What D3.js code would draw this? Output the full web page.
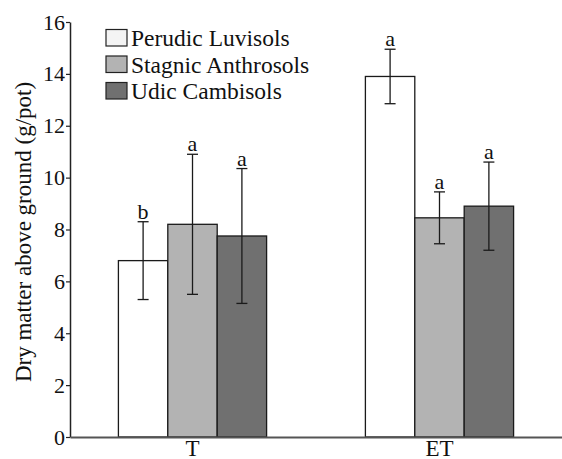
<!DOCTYPE html>
<html lang="en">
	<head>
		<meta charset="utf-8">
		<title>Dry matter above ground</title>
		<script type="text/javascript" src="https://cdn.jsdelivr.net/npm/d3@7"></script>
		<style type="text/css">
			body { margin: 0; background: #fff; }
			text { font-family: "Liberation Serif", "Times New Roman", serif; fill: #111; }
		</style>
	</head>
	<body>
		<script type="text/javascript">

			//Width and height
			var w = 562;
			var h = 459;

			var groups = ["T", "ET"];
			var soils = ["Perudic Luvisols", "Stagnic Anthrosols", "Udic Cambisols"];
			var colors = ["#ffffff", "#b3b3b3", "#707070"];
			var legendColors = ["#f4f4f4", "#b3b3b3", "#707070"];

			//mean values per soil, in group order (T, ET)
			var perudic = [6.8, 13.9];
			var stagnic = [8.2, 8.45];
			var udic = [7.75, 8.9];
			//standard deviations
			var perudicErr = [1.5, 1.05];
			var stagnicErr = [2.7, 1.0];
			var udicErr = [2.6, 1.7];
			//significance letters
			var perudicSig = ["b", "a"];
			var stagnicSig = ["a", "a"];
			var udicSig = ["a", "a"];

			var yTicks = [0, 2, 4, 6, 8, 10, 12, 14, 16];

			var means = [perudic, stagnic, udic];
			var errs = [perudicErr, stagnicErr, udicErr];
			var sigs = [perudicSig, stagnicSig, udicSig];

			var dataset = [];
			groups.forEach(function(g, gi) {
				soils.forEach(function(s, si) {
					dataset.push({group: g, soil: s, si: si, v: means[si][gi], e: errs[si][gi], sig: sigs[si][gi]});
				});
			});

			var padLeft = 70, padTop = 22, padBottom = 437;

			var xScale = d3.scaleBand()
			.domain(groups)
			.range([padLeft, w])
			.paddingInner(0.4)
			.paddingOuter(0.196);

			var sScale = d3.scaleBand()
			.domain(soils)
			.range([0, xScale.bandwidth()]);

			var yScale = d3.scaleLinear()
			.domain([0, 16])
			.range([padBottom, padTop]);

			//Create SVG element
			var svg = d3.select("body")
						.append("svg")
						.attr("height", h)
						.attr("width", w);

			svg.selectAll("rect.bar")
			.data(dataset)
			.enter()
			.append("rect")
			.attr("class", "bar")
			.attr("x", function(d){ return xScale(d.group) + sScale(d.soil); })
			.attr("y", function(d){ return yScale(d.v); })
			.attr("width", sScale.bandwidth())
			.attr("height", function(d){ return yScale(0) - yScale(d.v); })
			.attr("fill", function(d){ return colors[d.si]; })
			.attr("stroke", "#1a1a1a")
			.attr("stroke-width", 1.3);

			var cx = function(d){ return xScale(d.group) + sScale(d.soil) + sScale.bandwidth() / 2; };

			var eb = svg.selectAll("g.err")
			.data(dataset)
			.enter()
			.append("g")
			.attr("class", "err")
			.attr("stroke", "#1a1a1a")
			.attr("stroke-width", 1.3);

			eb.append("line")
			.attr("x1", cx).attr("x2", cx)
			.attr("y1", function(d){ return yScale(d.v + d.e); })
			.attr("y2", function(d){ return yScale(d.v - d.e); });

			eb.append("line")
			.attr("x1", function(d){ return cx(d) - 5.5; })
			.attr("x2", function(d){ return cx(d) + 5.5; })
			.attr("y1", function(d){ return yScale(d.v + d.e); })
			.attr("y2", function(d){ return yScale(d.v + d.e); });

			eb.append("line")
			.attr("x1", function(d){ return cx(d) - 5.5; })
			.attr("x2", function(d){ return cx(d) + 5.5; })
			.attr("y1", function(d){ return yScale(d.v - d.e); })
			.attr("y2", function(d){ return yScale(d.v - d.e); });

			svg.selectAll("text.sig")
			.data(dataset)
			.enter()
			.append("text")
			.attr("class", "sig")
			.attr("x", cx)
			.attr("y", function(d){ return yScale(d.v + d.e) - 3; })
			.attr("text-anchor", "middle")
			.attr("font-size", 22)
			.text(function(d){ return d.sig; });

			//y axis
			var yAxis = d3.axisLeft(yScale).tickValues(yTicks).tickSize(4).tickPadding(1).tickSizeOuter(0);
			var gy = svg.append("g")
			.attr("transform", "translate(" + padLeft + ",0)")
			.call(yAxis);
			gy.select(".domain").attr("stroke", "#222").attr("stroke-width", 1.5);
			gy.selectAll(".tick line").attr("stroke", "#222").attr("stroke-width", 1.2);
			gy.selectAll(".tick text")
			.attr("font-size", 22)
			.attr("fill", "#111");

			//x axis
			var xAxis = d3.axisBottom(xScale).tickSize(0);
			var gx = svg.append("g")
			.attr("transform", "translate(0," + padBottom + ")")
			.call(xAxis);
			gx.select(".domain").attr("stroke", "#555").attr("stroke-width", 2);
			gx.selectAll(".tick text")
			.attr("font-size", 23)
			.attr("fill", "#111")
			.attr("dy", null)
			.attr("y", 18.5);

			svg.append("text")
			.attr("transform", "translate(31,232) rotate(-90)")
			.attr("text-anchor", "middle")
			.attr("font-size", 23)
			.text("Dry matter above ground (g/pot)");

			//legend
			var lg = svg.selectAll("g.legend")
			.data(soils)
			.enter()
			.append("g")
			.attr("class", "legend")
			.attr("transform", function(d, i){ return "translate(106," + (29.5 + i * 26.5) + ")"; });

			lg.append("rect")
			.attr("width", 21)
			.attr("height", 16.5)
			.attr("fill", function(d, i){ return legendColors[i]; })
			.attr("stroke", "#222")
			.attr("stroke-width", 1.2);

			lg.append("text")
			.attr("x", 25)
			.attr("y", 16.5)
			.attr("font-size", 23.5)
			.text(function(d){ return d; });

		</script>
	</body>
</html>
